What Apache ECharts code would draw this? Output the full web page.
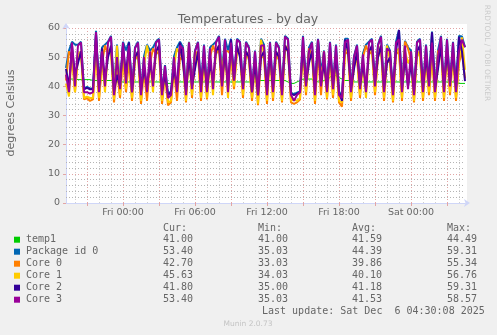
<!DOCTYPE html>
<html><head><meta charset="utf-8">
<script src="https://cdn.jsdelivr.net/npm/echarts@6/dist/echarts.min.js"></script>
<style>html,body{margin:0;padding:0;background:#f0f0f0;}#c{width:497px;height:335px;}</style>
</head><body><div id="c"></div>
<script>
const seriesNames = ['temp1', 'Package id 0', 'Core 0', 'Core 1', 'Core 2', 'Core 3'];
const seriesColors = ['#00cc00', '#0066b3', '#ff8000', '#ffcc00', '#330099', '#990099'];

const temp1 = [42.5,42.5,42.5,42.5,42.3,42.3,42.3,42.3,42.3,42.0,42.0,42.0,42.0,42.0,42.0,42.0,42.0,41.5,41.5,41.5,41.5,41.5,41.5,
  41.5,41.5,41.5,41.5,41.5,41.5,41.5,41.5,41.5,41.5,41.0,41.0,41.0,41.5,41.5,41.5,41.5,41.5,41.5,41.5,41.5,41.5,41.5,
  41.5,41.5,41.5,41.5,41.5,41.5,41.5,41.5,41.5,41.5,41.5,41.5,41.5,41.5,41.5,41.5,41.5,41.5,42.0,42.0,42.0,42.0,42.0,
  42.0,42.0,42.0,42.0,42.0,41.5,41.0,41.0,41.5,42.0,42.5,42.5,42.5,42.5,42.0,41.5,41.5,42.0,42.5,43.0,44.49,43.5,43.0,
  42.5,42.0,42.0,42.0,41.5,41.5,41.5,41.5,41.5,41.5,41.5,41.5,41.5,41.5,41.5,41.5,41.5,41.5,41.5,41.5,41.5,41.5,41.5,
  41.5,41.5,41.5,41.5,41.5,41.5,41.5,41.5,41.5,41.5,41.5,41.5,41.5,41.5,41.5,41.5,41.0,41.0,41.0];

const package0 = [46.3,52.3,55.3,54.3,54.3,55.3,39.3,39.8,39.3,39.3,59.0,39.3,53.3,54.3,55.3,57.3,38.3,54.3,40.3,55.3,52.3,55.3,38.3,
  53.3,55.3,38.3,50.3,54.3,52.3,53.3,55.3,56.3,38.3,47.3,37.3,38.3,50.3,53.3,55.3,53.3,38.3,55.3,40.3,52.3,55.3,40.3,
  54.3,39.3,53.3,54.3,55.3,57.3,45.3,56.3,52.3,56.3,42.3,56.3,55.3,40.3,55.3,53.3,38.3,52.3,37.3,56.3,54.3,38.3,55.3,
  39.3,55.3,53.3,38.3,57.3,56.3,37.8,37.3,37.8,38.3,57.3,41.3,53.3,55.3,38.3,56.3,44.3,52.3,39.3,55.3,40.3,54.3,38.3,
  36.3,56.3,56.3,39.3,50.3,54.3,40.3,51.3,54.3,55.3,56.3,41.3,54.3,57.3,39.3,54.3,52.3,38.3,55.3,59.31,39.3,55.6,53.3,
  52.3,38.3,55.3,56.3,39.3,54.3,41.3,58.8,39.3,52.3,57.3,39.3,56.3,41.3,55.3,39.3,57.3,57.1,53.4];

const core0 = [42,52,50,38,50,51,35.5,36,35,35.5,53,35,48,54,51,52,34.5,46,36,50,38,49,35,
  49,51,34,46,35,48,53,51,52,34,44,33.5,34.5,46,35,50,49,34.5,55,36,52,51,35,
  50,35.5,50,54,51,53,37,52,52,51,39,52,51,36,52,49,35,48,33.5,50,50,34,52,
  35,51,49,34.5,53,52,34.5,34,34.5,35.5,53,37,53,51,34,52,37,52,35.5,51,36,50,34.5,
  33.03,51,52,35,47,50,36,50,54,51,52,37,50,53,35,49,48,34.5,51,52,35,55.34,53,
  49,34.5,51,52,35,50,37,51,35,52,53,35,52,37,51,35,48,52,42.7];

const core1 = [41,36.5,52,38,51,52,36,36.5,36,36,54,36,49,38,52,53,35.5,54,37,52,39,51,36,
  50,52,35,47,54,49,38,52,53,35,45,34.5,35,47,53,51,50,35,52,37,49,52,36,
  51,36,50,37,52,54,45,53,36,52,40,53,52,37,52,50,36,49,34.03,56,51,35,53,
  36,52,50,35,54,53,35,35.5,35,36,54,38,49,52,35,53,44,49,36,52,37,51,35,
  34.5,52,53,36,48,51,37,48,36,52,53,38,51,54,36,54,49,35,52,53,36,52,48,
  50,35,52,50,36,51,38,52,36,47,54,36,53,38,52,36,49,56.76,45.63];

const core2 = [46,40,54,44,48,52,39,39.5,39,39,58,39,53,42,50,54,38,44,40,54,44,55,38,
  50,52,38,46,40,48,42,52,54,38,44,37,38,46,40,55,48,38,50,40,46,52,40,
  50,39,48,42,52,54,41,52,40,56,42,54,50,40,52,50,38,48,37,50,52,38,52,
  39,52,50,38,54,52,37.5,37,37.5,38,54,41,48,52,38,56,41,48,39,52,40,50,38,
  35,56,52,39,46,52,40,48,39,52,54,41,50,54,39,48,50,38,52,59.31,39,50,40,
  48,38,52,54,39,50,41,58.5,39,46,54,39,52,41,52,39,57,52,41.8];

const core3 = [44,38,55,40,54,55,38,38,37.5,38,58.57,38,52,40,55,57,37,50,39,55,41,54,38,
  53,55,37,50,38,52,40,55,56,37,47,36,37,50,38,54,53,37,55,39,52,55,38,
  54,38,53,39,55,57,40,56,38,55,42,56,55,39,55,53,38,52,37,54,54,37,55,
  38,55,53,37,57,56,37,35.03,37,38,57,40,52,55,37,56,40,52,38,55,39,54,37,
  36,55,56,38,50,54,39,51,38,55,56,40,54,57,38,53,52,37,55,56,38,54,39,
  52,37,55,56,38,54,40,55,38,50,57,38,56,40,55,38,52,56,53.4];

const curVals = ['41.00', '53.40', '42.70', '45.63', '41.80', '53.40'];
const minVals = ['41.00', '35.03', '33.03', '34.03', '35.00', '35.03'];
const avgVals = ['41.59', '44.39', '39.86', '40.10', '41.18', '41.53'];
const maxVals = ['44.49', '59.31', '55.34', '56.76', '59.31', '58.57'];
const xTickLabels = ['Fri 00:00', 'Fri 06:00', 'Fri 12:00', 'Fri 18:00', 'Sat 00:00'];
const yMinorGridValues = [2, 4, 6, 8, 12, 14, 16, 18, 22, 24, 26, 28, 32, 34, 36, 38, 42, 44, 46, 48, 52, 54, 56, 58];
const titleText = 'Temperatures - by day';
const yAxisTitle = 'degrees Celsius';
const lastUpdate = 'Last update: Sat Dec  6 04:30:08 2025';

// sample times: Thu 19:15 onward every 15 minutes
const dayNames = ['Thu', 'Fri', 'Sat'];
const startMinutes = 19 * 60 + 15, stepMinutes = 15;
const pad = n => (n < 10 ? '0' : '') + n;
const categories = core3.map((_, i) => {
  const t = startMinutes + i * stepMinutes;
  const d = Math.floor(t / 1440), m = t % 1440;
  return dayNames[d] + ' ' + pad(Math.floor(m / 60)) + ':' + pad(m % 60);
});
const hm = v => { const p = v.split(' ')[1].split(':'); return [+p[0], +p[1]]; };
const isHour = (i, v) => { const t = hm(v); return t[1] === 0 && t[0] % 3 !== 0; };
const isMajor = (i, v) => { const t = hm(v); return t[1] === 0 && t[0] % 3 === 0; };

const allData = [temp1, package0, core0, core1, core2, core3];
const fontColor = '#666666';
const majorGrid = '#e2a5a5';
const minorGrid = '#d0d0d0';
const minorGridH = '#b4b4b4';
const axisColor = '#cfd6f8';

const graphics = [
  { type: 'rect', shape: { x: 66, y: 24, width: 401, height: 179 }, style: { fill: '#ffffff' }, z: -10, silent: true },
  { type: 'text', x: 248, y: 20, style: { text: titleText, font: '12.5px "DejaVu Sans"', fill: fontColor, align: 'center', verticalAlign: 'middle' } },
  { type: 'text', x: 11, y: 113, rotation: Math.PI / 2, style: { text: yAxisTitle, font: '11px "DejaVu Sans"', fill: fontColor, align: 'center', verticalAlign: 'middle' } },
  { type: 'text', x: 487, y: 53, rotation: -Math.PI / 2, style: { text: 'RRDTOOL / TOBI OETIKER', font: '7.5px "DejaVu Sans"', fill: '#cbcbcb', align: 'center', verticalAlign: 'middle' } },
  { type: 'text', x: 248, y: 324, style: { text: 'Munin 2.0.73', font: '7.5px "DejaVu Sans"', fill: '#c4c4c4', align: 'center', verticalAlign: 'middle' } }
];
const mono = '10px "DejaVu Sans Mono"';
const colX = [163, 258, 352, 447];
['Cur:', 'Min:', 'Avg:', 'Max:'].forEach((h, k) => {
  graphics.push({ type: 'text', x: colX[k], y: 228.5, style: { text: h, font: mono, fill: fontColor, align: 'left', verticalAlign: 'middle' } });
});
seriesNames.forEach((name, r) => {
  const y = 239.7 + r * 12;
  graphics.push({ type: 'rect', shape: { x: 14, y: y - 3, width: 6, height: 6 }, style: { fill: seriesColors[r] } });
  graphics.push({ type: 'text', x: 26, y: y, style: { text: name, font: mono, fill: fontColor, align: 'left', verticalAlign: 'middle' } });
  [curVals, minVals, avgVals, maxVals].forEach((arr, k) => {
    graphics.push({ type: 'text', x: colX[k], y: y, style: { text: arr[r], font: mono, fill: fontColor, align: 'left', verticalAlign: 'middle' } });
  });
});
graphics.push({ type: 'text', x: 262, y: 311.7, style: { text: lastUpdate, font: mono, fill: fontColor, align: 'left', verticalAlign: 'middle' } });

const chart = echarts.init(document.getElementById('c'), null, { renderer: 'canvas' });
const seriesList = seriesNames.map((name, k) => ({
  name: name, type: 'line', data: allData[k], xAxisIndex: 0, yAxisIndex: 0,
  showSymbol: false, symbol: 'none', smooth: false,
  lineStyle: { color: seriesColors[k], width: k === 0 ? 1 : 2 }, itemStyle: { color: seriesColors[k] },
  emphasis: { disabled: true }, z: 5 + k
}));
// minor horizontal grid lines (every 2 degrees)
seriesList[0].markLine = {
  silent: true, symbol: ['none', 'none'], animation: false, precision: 0,
  label: { show: false },
  lineStyle: { color: minorGridH, type: [1, 2], width: 1, opacity: 1 },
  emphasis: { disabled: true },
  data: yMinorGridValues.map(v => ({ yAxis: v }))
};

chart.setOption({
  animation: false,
  backgroundColor: '#f0f0f0',
  grid: { left: 66, top: 28, width: 399, height: 175, outerBoundsMode: 'none', containLabel: false },
  xAxis: [
    {
      type: 'category', data: categories, boundaryGap: false, position: 'bottom',
      axisLine: { show: true, lineStyle: { color: axisColor, width: 1 }, symbol: ['none', 'arrow'], symbolSize: [6, 6], symbolOffset: [0, 5] },
      axisTick: { show: true, interval: isMajor, length: 3, lineStyle: { color: majorGrid } },
      axisLabel: {
        show: true, interval: (i, v) => xTickLabels.indexOf(v) >= 0, margin: 5,
        color: fontColor, fontFamily: 'DejaVu Sans', fontSize: 9.5,
        formatter: v => v
      },
      splitLine: { show: true, interval: isMajor, lineStyle: { color: majorGrid, type: [1, 2], width: 1 } },
      z: 3
    },
    {
      type: 'category', data: categories, boundaryGap: false, position: 'top',
      axisLine: { show: false }, axisTick: { show: false }, axisLabel: { show: false },
      splitLine: { show: true, interval: isHour, lineStyle: { color: minorGrid, type: [1, 2], width: 1 } },
      z: 1
    }
  ],
  yAxis: [
    {
      type: 'value', min: 0, max: 60, interval: 10, position: 'left',
      axisLine: { show: true, lineStyle: { color: axisColor, width: 1 }, symbol: ['none', 'arrow'], symbolSize: [6, 6], symbolOffset: [0, 5] },
      axisTick: { show: true, length: 3, lineStyle: { color: majorGrid } },
      axisLabel: { show: true, margin: 6, color: fontColor, fontFamily: 'DejaVu Sans', fontSize: 9.5 },
      splitLine: { show: true, lineStyle: { color: majorGrid, type: [1, 2], width: 1 } },
      z: 3
    }
  ],
  series: seriesList,
  graphic: graphics
});
</script>
</body></html>
